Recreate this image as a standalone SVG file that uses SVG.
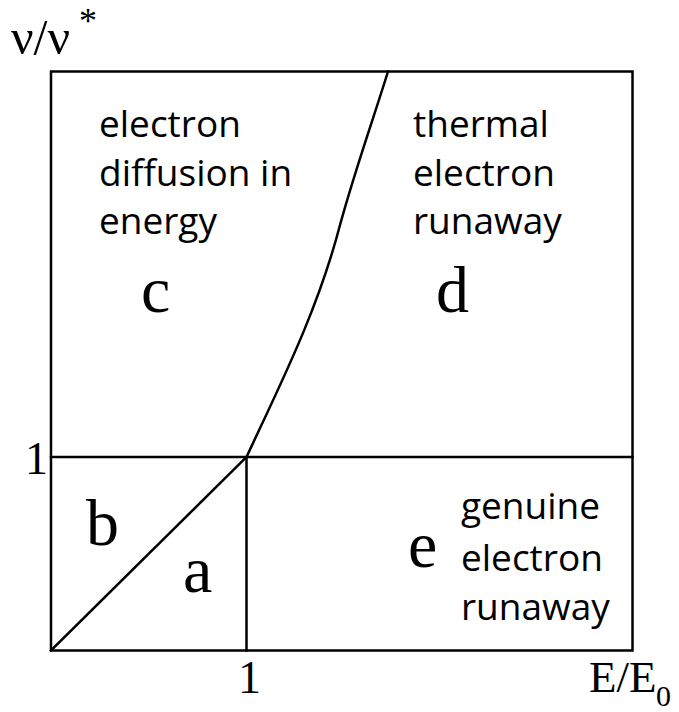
<svg xmlns="http://www.w3.org/2000/svg" width="679" height="712" viewBox="0 0 679 712">
<style>
.ln{fill:none;stroke:#000;stroke-width:2.5;stroke-linecap:square}
.lbl{font-family:"Open Sans","Noto Sans",sans-serif;font-size:37px;fill:#000}
.big{font-family:"Liberation Serif","Times New Roman",serif;font-size:66px;fill:#000}
.ax{font-family:"Liberation Serif","Times New Roman",serif;fill:#000}
</style>
<rect width="679" height="712" fill="#fff"/>
<g id="connectors">
<rect class="ln" x="51" y="71.5" width="581.5" height="579"/>
<line class="ln" x1="51" y1="457" x2="632.5" y2="457"/>
<line class="ln" x1="246.5" y1="457" x2="246.5" y2="650.5"/>
<line class="ln" x1="51" y1="650.5" x2="246.5" y2="457"/>
<path class="ln" d="M246.5,457 C280,385 318,310 340,225 C355,170 373,120 388,71.5"/>
</g>
<g id="axis-y"><text class="ax" x="11" y="54" font-size="50">ν/ν</text><text class="ax" x="79" y="33" font-size="36">*</text></g>
<g id="axis-x"><text class="ax" x="589" y="692" font-size="45">E/E</text><text class="ax" x="656" y="706" font-size="30">0</text></g>
<g id="tick-y"><text class="ax" x="25" y="474" font-size="46">1</text></g>
<g id="tick-x"><text class="ax" x="238" y="693" font-size="46">1</text></g>
<g id="region-c">
<text class="lbl" x="99" y="137">electron</text>
<text class="lbl" x="99" y="186">diffusion in</text>
<text class="lbl" x="99" y="234">energy</text>
<text class="big" x="141" y="312">c</text>
</g>
<g id="region-d">
<text class="lbl" x="413" y="137">thermal</text>
<text class="lbl" x="413" y="186">electron</text>
<text class="lbl" x="413" y="234">runaway</text>
<text class="big" x="436" y="312">d</text>
</g>
<g id="region-b"><text class="big" x="86" y="545">b</text></g>
<g id="region-a"><text class="big" x="183" y="592">a</text></g>
<g id="region-e">
<text class="big" x="408" y="567">e</text>
<text class="lbl" x="461" y="519">genuine</text>
<text class="lbl" x="461" y="571">electron</text>
<text class="lbl" x="461" y="620">runaway</text>
</g>
</svg>
